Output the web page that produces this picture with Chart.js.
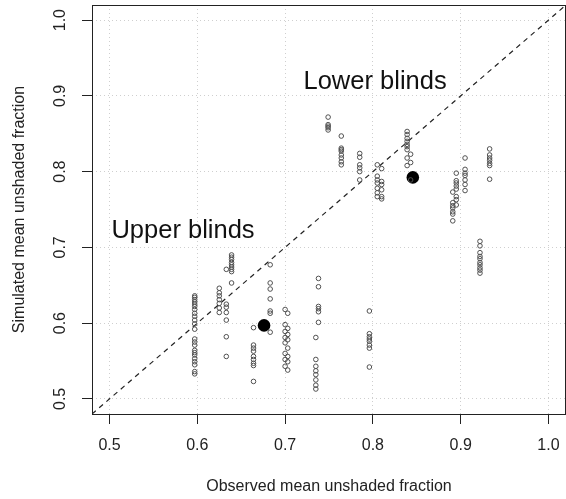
<!DOCTYPE html>
<html>
<head>
<meta charset="utf-8">
<script src="https://cdn.jsdelivr.net/npm/chart.js@4.4.1/dist/chart.umd.min.js"></script>
<style>
  html, body { margin: 0; padding: 0; background: #fff; }
  #wrap { width: 566px; height: 499px; }
</style>
</head>
<body>
<div id="wrap"><canvas id="chart" width="566" height="499"></canvas></div>
<script>
/* ─── Data ───────────────────────────────────────────────────── */
const TICKS = [0.5, 0.6, 0.7, 0.8, 0.9, 1.0];
const AXIS_RANGE = [0.48, 1.02];

// upper blinds: observed / simulated mean unshaded fraction
const upperObs = [
  0.597, 0.597, 0.597, 0.597, 0.597, 0.597, 0.597, 0.597, 0.597, 0.597, 0.597, 0.597,
  0.597, 0.597, 0.597, 0.597, 0.597, 0.597, 0.597, 0.597, 0.597, 0.597, 0.597,
  0.625, 0.625, 0.625, 0.625, 0.625, 0.625, 0.625,
  0.633, 0.633, 0.633, 0.633, 0.633, 0.633, 0.633,
  0.639, 0.639, 0.639, 0.639, 0.639, 0.639, 0.639, 0.639, 0.639,
  0.664, 0.664, 0.664, 0.664, 0.664, 0.664, 0.664, 0.664, 0.664,
  0.683, 0.683, 0.683, 0.683, 0.683, 0.683, 0.683,
  0.700, 0.703, 0.700, 0.703, 0.700, 0.703, 0.700, 0.703,
  0.700, 0.703, 0.700, 0.703, 0.700, 0.703, 0.700, 0.703,
  0.738, 0.738, 0.738, 0.738, 0.738, 0.738,
  0.735, 0.735, 0.735, 0.735, 0.735, 0.735, 0.735, 0.735,
  0.796, 0.796, 0.796, 0.796, 0.796, 0.796, 0.796, 0.796,
];
const upperSim = [
  0.636, 0.634, 0.631, 0.628, 0.625, 0.622, 0.618, 0.613, 0.609, 0.604, 0.599, 0.592,
  0.579, 0.575, 0.571, 0.564, 0.561, 0.558, 0.553, 0.549, 0.545, 0.536, 0.533,
  0.646, 0.640, 0.636, 0.631, 0.626, 0.620, 0.614,
  0.625, 0.621, 0.614, 0.604, 0.582, 0.556, 0.671,
  0.690, 0.687, 0.684, 0.680, 0.677, 0.674, 0.671, 0.668, 0.653,
  0.594, 0.571, 0.567, 0.563, 0.556, 0.552, 0.547, 0.544, 0.523,
  0.677, 0.653, 0.645, 0.632, 0.616, 0.613, 0.588,
  0.618, 0.613, 0.598, 0.593, 0.589, 0.585, 0.581, 0.578,
  0.574, 0.567, 0.560, 0.556, 0.552, 0.549, 0.543, 0.538,
  0.659, 0.648, 0.622, 0.619, 0.615, 0.601,
  0.581, 0.552, 0.543, 0.537, 0.532, 0.525, 0.518, 0.513,
  0.616, 0.586, 0.582, 0.579, 0.576, 0.571, 0.567, 0.542,
];

// lower blinds
const lowerObs = [
  0.749, 0.749, 0.749, 0.749, 0.749,
  0.764, 0.764, 0.764, 0.764, 0.764, 0.764, 0.764, 0.764,
  0.785, 0.785, 0.785, 0.785, 0.785, 0.785,
  0.805, 0.805, 0.805, 0.805, 0.805, 0.805, 0.805,
  0.810, 0.810, 0.810, 0.810, 0.810, 0.810,
  0.839, 0.839, 0.839, 0.839, 0.839, 0.839, 0.839, 0.839, 0.839,
  0.843, 0.843, 0.843,
  0.895, 0.895, 0.895, 0.895, 0.895, 0.895, 0.895, 0.895,
  0.891, 0.891, 0.891, 0.891, 0.891, 0.891, 0.891,
  0.905, 0.905, 0.905, 0.905, 0.905, 0.905, 0.905,
  0.933, 0.933, 0.933, 0.933, 0.933, 0.933, 0.933,
  0.922, 0.922, 0.922, 0.922, 0.922, 0.922, 0.922, 0.922, 0.922, 0.922,
];
const lowerSim = [
  0.872, 0.862, 0.860, 0.858, 0.855,
  0.847, 0.831, 0.829, 0.827, 0.822, 0.818, 0.813, 0.809,
  0.824, 0.819, 0.809, 0.805, 0.800, 0.789,
  0.809, 0.794, 0.789, 0.785, 0.778, 0.772, 0.767,
  0.804, 0.787, 0.783, 0.776, 0.767, 0.764,
  0.853, 0.849, 0.844, 0.840, 0.836, 0.833, 0.829, 0.818, 0.808,
  0.823, 0.812, 0.789,
  0.798, 0.788, 0.785, 0.781, 0.777, 0.767, 0.763, 0.756,
  0.773, 0.759, 0.755, 0.752, 0.747, 0.744, 0.735,
  0.818, 0.803, 0.798, 0.795, 0.789, 0.783, 0.775,
  0.830, 0.822, 0.818, 0.815, 0.811, 0.808, 0.790,
  0.708, 0.702, 0.693, 0.688, 0.685, 0.680, 0.677, 0.673, 0.670, 0.666,
];

// group means (upper, lower)
const meanObs = [0.676, 0.8455];
const meanSim = [0.597, 0.7924];

// text labels, placed in data units
const NOTE_TEXT = ['Lower blinds', 'Upper blinds'];
const NOTE_X    = [0.8025, 0.5837];
const NOTE_Y    = [0.909, 0.7123];

/* ─── Helpers ────────────────────────────────────────────────── */
const FONT = 'Liberation Sans';
const INK  = '#222';

const toPoints = (xs, ys) => xs.map((x, i) => ({ x, y: ys[i] }));

const tickList = scale => { scale.ticks = TICKS.map(v => ({ value: v })); };

// fixed axis thickness, and no extra room for overhanging end labels
const fixSize = (prop, px) => scale => {
  scale[prop] = px;
  scale.paddingLeft = scale.paddingRight = 0;
  scale.paddingTop = scale.paddingBottom = 0;
};

/* ─── Frame + annotations plugin ─────────────────────────────── */
const framePlugin = {
  id: 'frame',
  afterDraw(chart) {
    const { ctx, chartArea: a, scales: { x, y } } = chart;
    ctx.save();
    ctx.strokeStyle = INK;
    ctx.lineWidth = 1;
    ctx.strokeRect(Math.round(a.left) + 0.5, Math.round(a.top) + 0.5,
                   Math.round(a.right - a.left) - 1, Math.round(a.bottom - a.top));

    ctx.font = `25.5px "${FONT}"`;
    ctx.fillStyle = '#111';
    ctx.textAlign = 'center';
    ctx.textBaseline = 'alphabetic';
    NOTE_TEXT.forEach((t, i) => {
      ctx.fillText(t, x.getPixelForValue(NOTE_X[i]), y.getPixelForValue(NOTE_Y[i]));
    });
    ctx.restore();
  },
};

/* ─── Chart ──────────────────────────────────────────────────── */
const openCircle = {
  pointRadius: 2.3,
  pointBorderWidth: 1,
  pointBackgroundColor: 'rgba(0,0,0,0)',
  pointBorderColor: '#505050',
  showLine: false,
};

new Chart(document.getElementById('chart'), {
  type: 'scatter',
  data: {
    datasets: [
      { label: 'Upper blinds', data: toPoints(upperObs, upperSim), ...openCircle },
      { label: 'Lower blinds', data: toPoints(lowerObs, lowerSim), ...openCircle },
      {
        label: '1:1',
        data: toPoints(AXIS_RANGE, AXIS_RANGE),
        showLine: true,
        pointRadius: 0,
        borderColor: INK,
        borderWidth: 1.2,
        borderDash: [5, 4.5],
      },
      {
        label: 'Mean',
        data: toPoints(meanObs, meanSim),
        pointRadius: 6.3,
        pointBorderWidth: 0,
        pointBackgroundColor: '#000',
        showLine: false,
      },
    ],
  },
  options: {
    responsive: false,
    devicePixelRatio: 1,
    animation: false,
    events: [],
    layout: { autoPadding: false, padding: { left: 0, right: 0, top: 5, bottom: 0 } },
    plugins: { legend: { display: false }, tooltip: { enabled: false } },
    scales: {
      x: {
        type: 'linear',
        min: AXIS_RANGE[0],
        max: AXIS_RANGE[1],
        afterBuildTicks: tickList,
        afterFit: fixSize('height', 85),
        ticks: {
          font: { family: FONT, size: 16 },
          color: INK,
          padding: 12,
          maxRotation: 0,
          autoSkip: false,
          callback: v => v.toFixed(1),
        },
        grid: {
          color: '#cfcfcf',
          lineWidth: 1,
          tickLength: 10,
          tickColor: INK,
          tickWidth: 1,
          tickBorderDash: [],
        },
        border: { display: false, dash: [1, 3] },
        title: {
          display: true,
          text: 'Observed mean unshaded fraction',
          font: { family: FONT, size: 16 },
          color: INK,
          padding: { top: 0, bottom: 3 },
        },
      },
      y: {
        type: 'linear',
        min: AXIS_RANGE[0],
        max: AXIS_RANGE[1],
        afterBuildTicks: tickList,
        afterFit: fixSize('width', 92),
        ticks: {
          font: { family: FONT, size: 16 },
          color: INK,
          padding: 10,
          minRotation: 90,
          maxRotation: 90,
          crossAlign: 'center',
          autoSkip: false,
          callback: v => v.toFixed(1),
        },
        grid: {
          color: '#cfcfcf',
          lineWidth: 1,
          tickLength: 10,
          tickColor: INK,
          tickWidth: 1,
          tickBorderDash: [],
        },
        border: { display: false, dash: [1, 3] },
        title: {
          display: true,
          text: 'Simulated mean unshaded fraction',
          font: { family: FONT, size: 16 },
          color: INK,
          padding: { top: 10, bottom: 0 },
        },
      },
    },
  },
  plugins: [framePlugin],
});
</script>
</body>
</html>
